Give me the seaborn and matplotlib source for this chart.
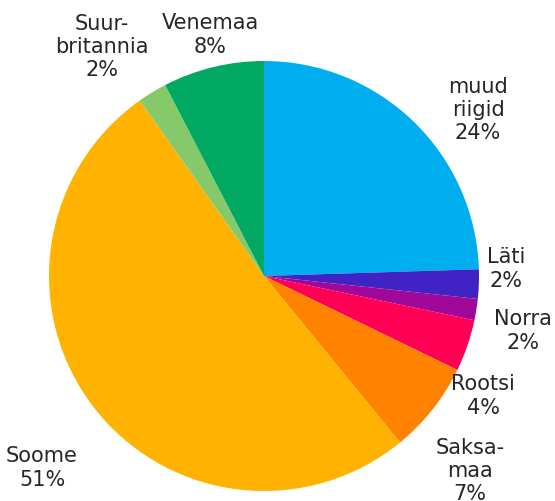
import matplotlib
matplotlib.use("Agg")
import matplotlib.pyplot as plt
import seaborn as sns

categories = ["muud\nriigid", "Läti", "Norra", "Rootsi", "Saksa-\nmaa", "Soome", "Suur-\nbritannia", "Venemaa"]
values = [24.5, 2.2, 1.6, 3.9, 6.9, 51.1, 2.2, 7.6]
pct_labels = ["24%", "2%", "2%", "4%", "7%", "51%", "2%", "8%"]
colors = ["#00AEEF", "#3F23C4", "#A0089A", "#FF0055", "#FF8300", "#FFB300", "#86C96A", "#00A862"]

# label positions in pixel coords (x, y from top)
label_pos = [(478, 110), (506, 269), (523, 331), (483, 396), (470, 471), (42, 468), (102, 47), (210, 35)]

sns.set_theme(style="white")
plt.rcParams['font.family'] = ['DejaVu Sans']

W, H = 555, 502
fig = plt.figure(figsize=(W / 100, H / 100), dpi=100)
ax = fig.add_axes([0, 0, 1, 1])
ax.pie(values, colors=colors, startangle=90, counterclock=False,
       radius=215, center=(264, H - 277), wedgeprops=dict(linewidth=0))
ax.set_xlim(0, W)
ax.set_ylim(0, H)
ax.set_aspect('equal')
ax.axis('off')

for cat, pct, (x, y) in zip(categories, pct_labels, label_pos):
    ax.text(x, H - y, f"{cat}\n{pct}", ha="center", va="center", fontsize=15,
            color="#262626", linespacing=1.2)

fig.savefig("out.png", dpi=100)
